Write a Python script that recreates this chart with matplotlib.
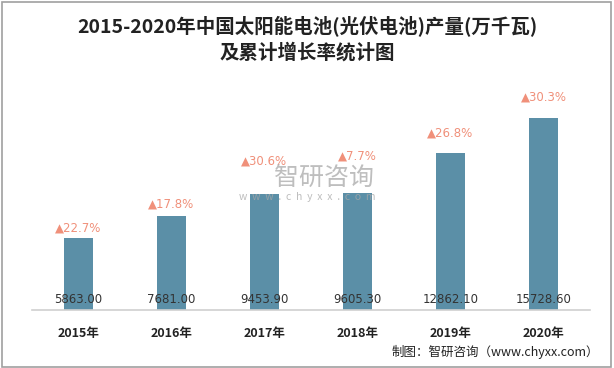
import matplotlib
matplotlib.use("Agg")
import matplotlib.pyplot as plt
from matplotlib.patches import Rectangle

plt.rcParams['font.family'] = ['Noto Sans CJK SC', 'DejaVu Sans']

years = ['2015年', '2016年', '2017年', '2018年', '2019年', '2020年']
production = [5863.00, 7681.00, 9453.90, 9605.30, 12862.10, 15728.60]
growth = ['22.7%', '17.8%', '30.6%', '7.7%', '26.8%', '30.3%']

# vertical gap (pixels) between bar top and growth label, as placed in the original
label_gap_px = [10, 12, 33, 37, 20, 21]

fig = plt.figure(figsize=(6.14, 3.68), dpi=100)
ax = fig.add_axes([0.052, 0.1576, 0.909, 0.5977])

x = range(len(years))
ax.bar(x, production, width=0.31, color='#5B8FA7', zorder=2)
ax.set_xlim(-0.5, len(years) - 0.5)
ax.set_ylim(0, 18000)

for i, (v, g) in enumerate(zip(production, growth)):
    ax.annotate(f'{v:.2f}', xy=(i, 0), xytext=(0, 11), textcoords='offset pixels',
                ha='center', va='center', fontsize=8.5,
                color='#333333', family=['DejaVu Sans'], zorder=3)
    ax.annotate('▲' + g, xy=(i, v), xytext=(0, label_gap_px[i]),
                textcoords='offset pixels', ha='center', va='center',
                fontsize=8.5, color='#F0907A', family=['DejaVu Sans'], zorder=3)

ax.set_xticks(list(x))
ax.set_xticklabels(years, fontsize=9, fontweight='bold', color='#222222')
ax.tick_params(axis='x', length=0, pad=12)
ax.set_yticks([])
for s in ['top', 'right', 'left']:
    ax.spines[s].set_visible(False)
ax.spines['bottom'].set_color('#D0D0D0')
ax.spines['bottom'].set_linewidth(1.2)

fig.text(0.5, 0.929, '2015-2020年中国太阳能电池(光伏电池)产量(万千瓦)', ha='center',
         va='center', fontsize=14, fontweight='bold', color='#222222')
fig.text(0.5, 0.858, '及累计增长率统计图', ha='center', va='center',
         fontsize=14, fontweight='bold', color='#222222')

# watermark
fig.text(0.527, 0.516, '智研咨询', ha='center', va='center', fontsize=18,
         color='#A8A8A8', alpha=0.75, zorder=1)
fig.text(0.50, 0.465, 'w  w  w  .  c  h  y  x  x  .  c  o  m', ha='center', va='center',
         fontsize=7.5, color='#A8A8A8', alpha=0.75, zorder=1)

fig.text(0.975, 0.043, '制图：智研咨询（www.chyxx.com）', ha='right', va='center',
         fontsize=9, color='#222222')

fig.patches.append(Rectangle((0.003, 0.003), 0.992, 0.992, transform=fig.transFigure,
                             fill=False, edgecolor='#A0A0A0', linewidth=1.2))

fig.savefig('out.png', dpi=100)
